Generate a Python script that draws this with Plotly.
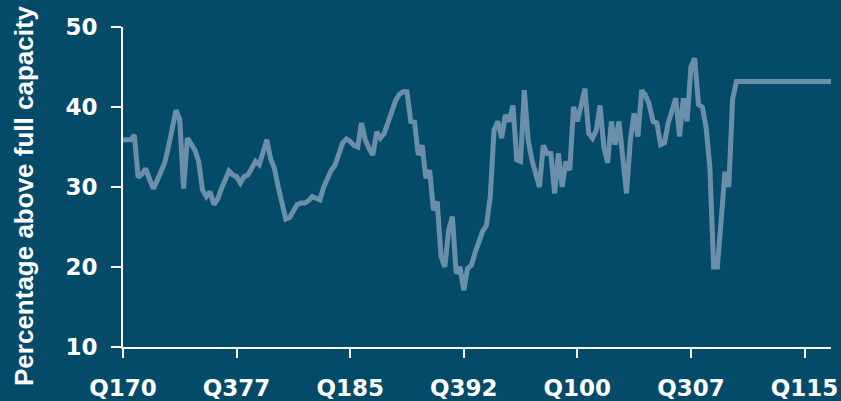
import plotly.graph_objects as go

# Quarter labels Q170 ... (Q1 1970 to Q4 2016)
N_QUARTERS = 188
quarters = [f"Q{(i % 4) + 1}{(70 + i // 4) % 100:02d}" for i in range(N_QUARTERS)]

# Percentage above full capacity
values = [
    35.9, 35.9, 35.9, 36.5, 31.2, 31.6, 32.3, 31.0, 29.8, 30.8,
    31.8, 33.0, 35.0, 37.0, 39.6, 38.4, 29.8, 36.1, 35.2, 34.6,
    33.2, 29.6, 28.8, 29.4, 27.8, 28.5, 29.8, 31.0, 32.0, 31.5,
    31.3, 30.5, 31.3, 31.5, 32.5, 33.2, 32.8, 34.5, 35.9, 33.5,
    32.3, 30.0, 28.0, 26.0, 26.2, 27.0, 27.8, 28.0, 28.0, 28.3,
    28.8, 28.6, 28.4, 30.0, 31.1, 32.1, 32.7, 34.0, 35.5, 36.0,
    35.7, 35.2, 35.0, 38.0, 35.9, 34.8, 34.0, 36.9, 36.1, 36.7,
    38.2, 39.5, 40.8, 41.6, 41.9, 41.9, 38.2, 38.1, 34.0, 35.2,
    31.1, 32.1, 27.1, 28.2, 21.3, 20.0, 24.6, 26.3, 19.2, 20.0,
    17.1, 19.8, 20.2, 21.8, 23.0, 24.5, 25.2, 28.8, 37.1, 38.2,
    36.1, 39.0, 38.2, 40.2, 33.4, 33.2, 42.1, 35.9, 33.4, 31.8,
    30.0, 35.2, 34.2, 34.2, 29.2, 34.2, 30.0, 33.2, 32.1, 40.0,
    38.2, 40.2, 42.3, 36.7, 36.1, 37.1, 40.2, 35.0, 33.0, 38.2,
    35.3, 38.2, 33.4, 29.2, 35.9, 39.2, 36.3, 42.1, 41.5, 40.3,
    38.2, 38.0, 35.3, 35.5, 38.0, 39.5, 41.1, 36.3, 41.1, 38.2,
    45.0, 46.1, 40.3, 40.0, 37.5, 32.5, 20.0, 20.0, 27.1, 31.9,
    30.0, 40.9, 43.2, 43.2, 43.2, 43.2, 43.2, 43.2, 43.2, 43.2,
    43.2, 43.2, 43.2, 43.2, 43.2, 43.2, 43.2, 43.2, 43.2, 43.2,
    43.2, 43.2, 43.2, 43.2, 43.2, 43.2, 43.2, 43.2,
]

x_tick_labels = ["Q170", "Q377", "Q185", "Q392", "Q100", "Q307", "Q115"]
y_ticks = [10, 20, 30, 40, 50]

BG = "#044B6A"
LINE = "#6B8FA8"
TICK_FONT = "DejaVu Sans"
TITLE_FONT = "Liberation Sans"

fig = go.Figure()
fig.add_trace(go.Scatter(
    x=quarters, y=values, mode="lines",
    line=dict(color=LINE, width=5),
    hoverinfo="skip", showlegend=False,
))

fig.update_layout(
    width=841, height=401,
    margin=dict(l=123, r=10, t=27, b=54),
    paper_bgcolor=BG, plot_bgcolor=BG,
    font=dict(family=TICK_FONT, color="white"),
    xaxis=dict(
        type="category",
        range=[0, N_QUARTERS - 1],
        tickmode="array", tickvals=x_tick_labels, ticktext=x_tick_labels,
        showgrid=False, zeroline=False, automargin=False,
        showline=True, linecolor="white", linewidth=2,
        ticks="outside", ticklen=9, tickwidth=2, tickcolor="white",
        tickfont=dict(family=TICK_FONT, size=23, color="white", weight="bold"),
        ticklabelstandoff=10,
    ),
    yaxis=dict(
        range=[10, 50],
        tickmode="array", tickvals=y_ticks,
        showgrid=False, zeroline=False, automargin=False,
        showline=True, linecolor="white", linewidth=2,
        ticks="outside", ticklen=10, tickwidth=2, tickcolor="white",
        tickfont=dict(family=TICK_FONT, size=23, color="white", weight="bold"),
        ticklabelstandoff=9,
    ),
    annotations=[dict(
        text="Percentage above full capacity",
        xref="paper", yref="paper",
        x=(24 - 123) / 708, y=(347 - 196) / 320,
        xanchor="center", yanchor="middle",
        textangle=-90, showarrow=False,
        font=dict(family=TITLE_FONT, size=26, color="white", weight="bold"),
    )],
)

fig.write_html("out.html")
